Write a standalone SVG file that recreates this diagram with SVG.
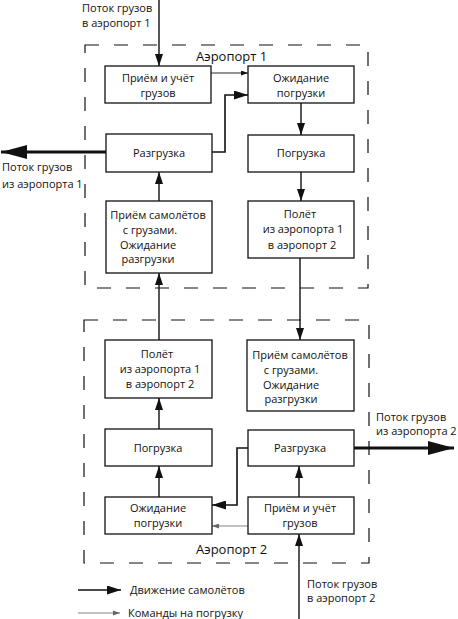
<svg xmlns="http://www.w3.org/2000/svg" width="458" height="619" viewBox="0 0 458 619">
<defs>
<style>
text{font-family:"Open Sans","Liberation Sans",sans-serif;font-size:11px;fill:#111}
.c{text-anchor:middle;dominant-baseline:central}
.l{dominant-baseline:central}
.ap{font-size:13px}
.box{fill:#fff;stroke:#111;stroke-width:1.3}
.zone{fill:none;stroke:#111;stroke-width:1.2;stroke-dasharray:14 15}
.n{fill:none;stroke:#111;stroke-width:1.4}
.t{fill:none;stroke:#111;stroke-width:1.6}
.thin{fill:none;stroke:#111;stroke-width:0.9}
.thing{fill:none;stroke:#777;stroke-width:0.9}
.big{fill:none;stroke:#111;stroke-width:3.2}
</style>
<marker id="a" markerUnits="userSpaceOnUse" markerWidth="12" markerHeight="8" refX="12" refY="4" orient="auto"><path d="M0,0L12,4L0,8z" fill="#111"/></marker>
<marker id="am" markerUnits="userSpaceOnUse" markerWidth="14" markerHeight="9" refX="14" refY="4.5" orient="auto"><path d="M0,0L14,4.5L0,9z" fill="#111"/></marker>
<marker id="s" markerUnits="userSpaceOnUse" markerWidth="7" markerHeight="5" refX="7" refY="2.5" orient="auto"><path d="M0,0L7,2.5L0,5z" fill="#111"/></marker>
<marker id="sg" markerUnits="userSpaceOnUse" markerWidth="7" markerHeight="5" refX="7" refY="2.5" orient="auto"><path d="M0,0L7,2.5L0,5z" fill="#666"/></marker>
<marker id="b" markerUnits="userSpaceOnUse" markerWidth="26" markerHeight="14" refX="26" refY="7" orient="auto"><path d="M0,0L26,7L0,14z" fill="#111"/></marker>
</defs>

<g id="airport1-zone">
<rect class="zone" x="85" y="45" width="283" height="243"/>
<text class="ap" x="196" y="56" style="dominant-baseline:central">Аэропорт 1</text>
</g>
<g id="airport2-zone">
<rect class="zone" x="84" y="320" width="285" height="243"/>
<text class="ap" x="196" y="549" style="dominant-baseline:central">Аэропорт 2</text>
</g>

<g id="connectors">
<!-- airport 1 -->
<line class="n" x1="159" y1="0" x2="159" y2="66" marker-end="url(#a)"/>
<line class="thin" x1="211" y1="73" x2="248" y2="73" marker-end="url(#s)"/>
<polyline class="t" points="212,152 225,152 225,95 248,95" marker-end="url(#am)"/>
<line class="n" x1="301" y1="103" x2="301" y2="135" marker-end="url(#a)"/>
<line class="n" x1="301" y1="172" x2="301" y2="201" marker-end="url(#a)"/>
<line class="n" x1="159" y1="201" x2="159" y2="172" marker-end="url(#a)"/>
<line class="big" x1="106" y1="152" x2="1" y2="152" marker-end="url(#b)"/>
<!-- between airports -->
<line class="n" x1="300" y1="258" x2="300" y2="340" marker-end="url(#a)"/>
<line class="n" x1="159" y1="340" x2="159" y2="273" marker-end="url(#a)"/>
<!-- airport 2 -->
<line class="n" x1="159" y1="429" x2="159" y2="398" marker-end="url(#a)"/>
<line class="n" x1="159" y1="497" x2="159" y2="466" marker-end="url(#a)"/>
<polyline class="t" points="248,448 237,448 237,505 212,505" marker-end="url(#am)"/>
<line class="thing" x1="248" y1="526" x2="212" y2="526" marker-end="url(#sg)"/>
<line class="n" x1="299" y1="497" x2="299" y2="466" marker-end="url(#a)"/>
<line class="n" x1="299" y1="619" x2="299" y2="534" marker-end="url(#a)"/>
<line class="big" x1="354" y1="448" x2="454" y2="448" marker-end="url(#b)"/>
<!-- legend -->
<line class="t" x1="78" y1="590" x2="121" y2="590" marker-end="url(#am)"/>
<line class="thing" x1="78" y1="613" x2="120" y2="613" marker-end="url(#sg)"/>
</g>

<g id="a1-priem">
<rect class="box" x="105" y="66" width="106" height="37"/>
<text class="c" x="158" y="77">Приём и учёт</text>
<text class="c" x="158" y="92">грузов</text>
</g>
<g id="a1-ozhidanie">
<rect class="box" x="248" y="66" width="106" height="37"/>
<text class="c" x="301" y="77">Ожидание</text>
<text class="c" x="301" y="92">погрузки</text>
</g>
<g id="a1-razgruzka">
<rect class="box" x="106" y="134" width="106" height="38"/>
<text class="c" x="159" y="152">Разгрузка</text>
</g>
<g id="a1-pogruzka">
<rect class="box" x="248" y="135" width="106" height="37"/>
<text class="c" x="301" y="152">Погрузка</text>
</g>
<g id="a1-priem-samoletov">
<rect class="box" x="106" y="201" width="106" height="72"/>
<text class="c" x="158" y="214">Приём самолётов</text>
<text class="c" x="150" y="229">с грузами.</text>
<text class="c" x="148" y="244">Ожидание</text>
<text class="c" x="148" y="258">разгрузки</text>
</g>
<g id="a1-polet">
<rect class="box" x="248" y="201" width="106" height="57"/>
<text class="c" x="300" y="213">Полёт</text>
<text class="c" x="303" y="228">из аэропорта 1</text>
<text class="c" x="302" y="244">в аэропорт 2</text>
</g>

<g id="a2-polet">
<rect class="box" x="105" y="340" width="107" height="58"/>
<text class="c" x="157" y="353">Полёт</text>
<text class="c" x="160" y="368">из аэропорта 1</text>
<text class="c" x="160" y="383">в аэропорт 2</text>
</g>
<g id="a2-priem-samoletov">
<rect class="box" x="247" y="340" width="107" height="71"/>
<text class="c" x="300" y="354">Приём самолётов</text>
<text class="c" x="291" y="369">с грузами.</text>
<text class="c" x="291" y="384">Ожидание</text>
<text class="c" x="291" y="398">разгрузки</text>
</g>
<g id="a2-pogruzka">
<rect class="box" x="105" y="429" width="107" height="37"/>
<text class="c" x="158" y="447">Погрузка</text>
</g>
<g id="a2-razgruzka">
<rect class="box" x="248" y="430" width="106" height="36"/>
<text class="c" x="300" y="447">Разгрузка</text>
</g>
<g id="a2-ozhidanie">
<rect class="box" x="105" y="497" width="107" height="37"/>
<text class="c" x="158" y="507">Ожидание</text>
<text class="c" x="158" y="522">погрузки</text>
</g>
<g id="a2-priem">
<rect class="box" x="248" y="497" width="106" height="37"/>
<text class="c" x="300" y="507">Приём и учёт</text>
<text class="c" x="300" y="522">грузов</text>
</g>

<g id="labels">
<text class="l" x="82" y="7">Поток грузов</text>
<text class="l" x="82" y="22">в аэропорт 1</text>
<text class="l" x="2" y="166">Поток грузов</text>
<text class="l" x="2" y="183">из аэропорта 1</text>
<text class="l" x="376" y="416">Поток грузов</text>
<text class="l" x="376" y="430">из аэропорта 2</text>
<text class="l" x="307" y="583">Поток грузов</text>
<text class="l" x="307" y="597">в аэропорт 2</text>
<text class="l" x="130" y="589">Движение самолётов</text>
<text class="l" x="128" y="612">Команды на погрузку</text>
</g>
</svg>
